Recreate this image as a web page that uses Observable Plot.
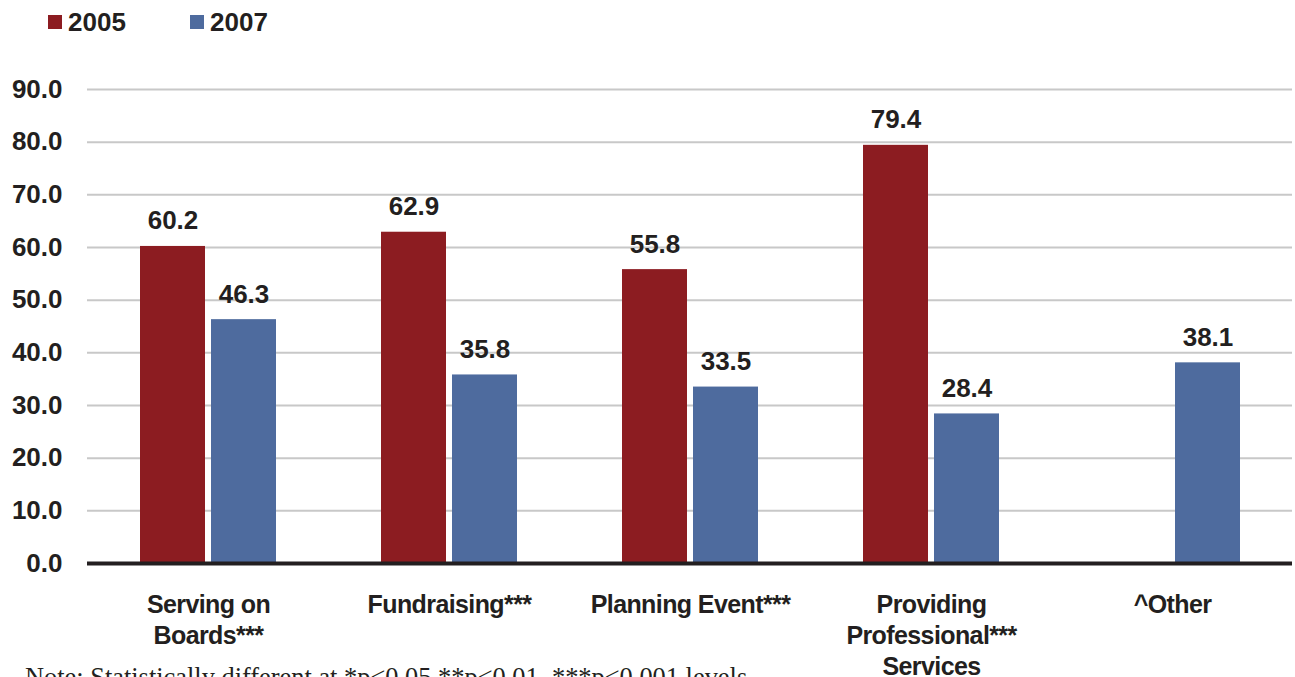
<!DOCTYPE html>
<html><head><meta charset="utf-8">
<script src="https://cdn.jsdelivr.net/npm/d3@7"></script>
<script src="https://cdn.jsdelivr.net/npm/@observablehq/plot@0.6"></script>
<style>
body{margin:0;background:#fff;font-family:"Liberation Sans",Arial,sans-serif;}
#wrap{position:relative;width:1295px;height:677px;overflow:hidden;background:#fff;}
#legend{height:44px;position:relative;}
.item{position:absolute;top:0;height:44px;display:flex;align-items:center;font-weight:bold;font-size:26px;color:#231f20;}
.sw{width:14px;height:14px;margin-right:6px;}
#note{position:absolute;left:25px;top:664px;font-family:"Liberation Serif","Times New Roman",serif;font-size:26.4px;line-height:1;color:#231f20;white-space:nowrap;}
</style></head>
<body>
<div id="wrap">
  <div id="legend"></div>
  <div id="chart"></div>
  <div id="note"></div>
</div>
<script>
const categories = ["Serving on Boards***", "Fundraising***", "Planning Event***", "Providing Professional*** Services", "^Other"];
const categoryLabels = ["Serving on\nBoards***", "Fundraising***", "Planning Event***", "Providing\nProfessional***\nServices", "^Other"];
const years = ["2005", "2007"];
const values2005 = [60.2, 62.9, 55.8, 79.4, null];
const values2007 = [46.3, 35.8, 33.5, 28.4, 38.1];
const yTicks = [0, 10, 20, 30, 40, 50, 60, 70, 80, 90];
const colors = ["#8C1C21", "#4E6B9E"];
const noteText = "Note: Statistically different at *p<0.05,**p<0.01, ***p<0.001 levels";

const data2005 = categories.map((c, i) => ({category: c, year: years[0], value: values2005[i]})).filter(d => d.value != null);
const data2007 = categories.map((c, i) => ({category: c, year: years[1], value: values2007[i]})).filter(d => d.value != null);
const labelMap = new Map(categories.map((c, i) => [c, categoryLabels[i]]));

// legend
const legend = document.getElementById("legend");
const legendLeft = [48, 190];
years.forEach((y, i) => {
  const it = document.createElement("div");
  it.className = "item";
  it.style.left = legendLeft[i] + "px";
  it.innerHTML = `<span class="sw" style="background:${colors[i]}"></span><span>${y}</span>`;
  legend.appendChild(it);
});
document.getElementById("note").textContent = noteText;

const ink = "#231f20";
const chart = Plot.plot({
  width: 1295,
  height: 633,
  marginTop: 45,
  marginBottom: 114,
  marginLeft: 87,
  marginRight: 3,
  style: {fontFamily: "'Liberation Sans', Arial, sans-serif", fontWeight: "bold", fontSize: "26px", color: ink, background: "white"},
  x: {domain: categories, paddingInner: 0.436, paddingOuter: 0.218},
  y: {domain: [0, 90]},
  marks: [
    Plot.gridY(yTicks, {stroke: "#c8c8c8", strokeOpacity: 1, strokeWidth: 2}),
    Plot.barY(data2005, {x: "category", y: "value", fill: colors[0], insetRight: 71}),
    Plot.barY(data2007, {x: "category", y: "value", fill: colors[1], insetLeft: 71}),
    Plot.ruleY([0], {stroke: ink, strokeWidth: 4}),
    Plot.text(data2005, {x: "category", y: "value", text: d => d.value.toFixed(1), dx: -35.5, dy: -17, lineAnchor: "bottom", fontSize: 26, fontWeight: "bold", fill: ink}),
    Plot.text(data2007, {x: "category", y: "value", text: d => d.value.toFixed(1), dx: 35.5, dy: -17, lineAnchor: "bottom", fontSize: 26, fontWeight: "bold", fill: ink}),
    Plot.axisY(yTicks, {tickFormat: d3.format(".1f"), tickSize: 0, tickPadding: 25, fontSize: 26, fontWeight: "bold", fill: ink, label: null}),
    Plot.axisX({tickFormat: d => labelMap.get(d), tickSize: 0, tickPadding: 27, fontSize: 25, fontWeight: "bold", lineHeight: 1.24, fill: ink, label: null})
  ]
});
chart.querySelectorAll('[aria-label="x-axis tick label"] text').forEach(t => t.style.letterSpacing = "-0.6px");
document.getElementById("chart").appendChild(chart);
</script>
</body></html>
